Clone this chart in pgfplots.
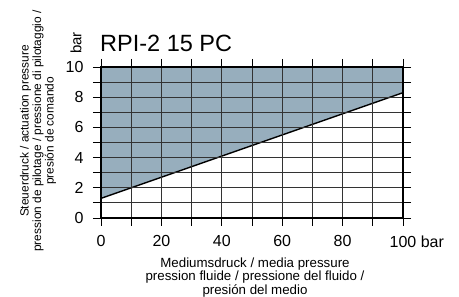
\documentclass[border=0pt]{standalone}
\usepackage{fontspec}
\setmainfont{Liberation Sans}
\usepackage{pgfplots}
\pgfplotsset{compat=1.18}
\definecolor{fillc}{HTML}{97AEBD}
\begin{document}
\begin{tikzpicture}[x=1pt,y=1pt]
\path[use as bounding box] (0,0) rectangle (459,297);
\begin{axis}[
  at={(101pt,79pt)}, anchor=south west,
  width=302pt, height=151pt, scale only axis,
  xmin=0, xmax=100, ymin=0, ymax=10,
  xtick={0,20,...,100}, minor xtick={10,30,...,90},
  ytick={0,2,...,10}, minor ytick={1,3,...,9},
  xticklabels={0,20,40,60,80,{100\rlap{ bar}}},
  grid=both,
  major grid style={black!80, line width=0.9pt},
  minor grid style={black!80, line width=0.9pt},
  tick align=outside,
  major tick length=8pt, minor tick length=8pt,
  tick style={black, line width=0.9pt},
  axis on top,
  axis line style={black, line width=1.6pt},
  /pgf/number format/assume math mode=true,
  ticklabel style={font=\fontsize{16}{18}\selectfont},
  xticklabel style={yshift=-6pt},
  yticklabel style={xshift=-6pt},
]
\addplot[fill=fillc, draw=none] coordinates {(0,1.3) (100,8.3) (100,10) (0,10)} -- cycle;
\addplot[black, line width=1.4pt] coordinates {(0,1.3) (100,8.3)};
\end{axis}
\node[anchor=base west, font=\fontsize{23.5}{26}\selectfont, inner sep=0pt] at (100,245) {RPI-2 15 PC};
\node[rotate=90, font=\fontsize{15}{16}\selectfont, inner sep=0pt] at (76,254) {bar};
\node[anchor=north, align=center, inner sep=0pt, font=\fontsize{13.3}{12}\selectfont] at (255,39.5)
  {Mediumsdruck / media pressure\\pression fluide / pressione del fluido /\\presión del medio};
\node[rotate=90, align=center, inner sep=0pt, font=\fontsize{11.9}{12.5}\selectfont] at (38,166)
  {Steuerdruck / actuation pressure\\pression de pilotage / pressione di pilotaggio /\\presión de comando};
\end{tikzpicture}
\end{document}
